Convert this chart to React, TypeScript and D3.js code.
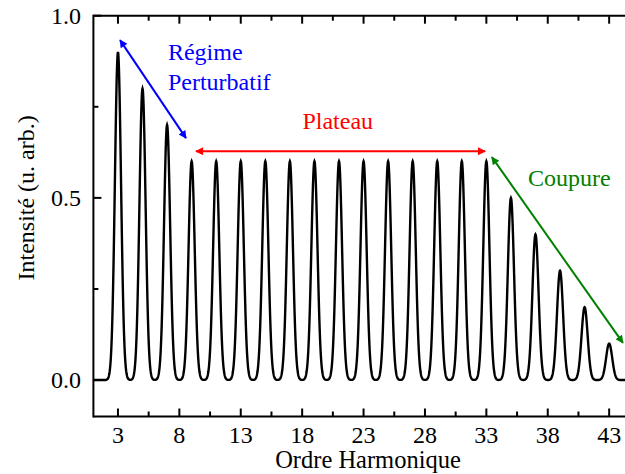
import React from 'react';
import * as d3 from 'd3';

const orders = [3, 5, 7, 9, 11, 13, 15, 17, 19, 21, 23, 25, 27, 29, 31, 33, 35, 37, 39, 41, 43];
const intensities = [0.9, 0.8, 0.7, 0.6, 0.6, 0.6, 0.6, 0.6, 0.6, 0.6, 0.6, 0.6, 0.6, 0.6, 0.6, 0.6, 0.5, 0.4, 0.3, 0.2, 0.1];
const xMajorTicks = [3, 8, 13, 18, 23, 28, 33, 38, 43];
const xMinorTicks = [5.5, 10.5, 15.5, 20.5, 25.5, 30.5, 35.5, 40.5];
const yMajorTicks = [0, 0.5, 1.0];
const yMinorTicks = [0.25, 0.75];

const arrows = [
  { x1: 3.17, y1: 0.933, x2: 8.54, y2: 0.664, color: '#0000ff' },
  { x1: 9.35, y1: 0.628, x2: 32.9, y2: 0.628, color: '#ff0000' },
  { x1: 33.45, y1: 0.612, x2: 44.12, y2: 0.102, color: '#008000' },
];
const labels = [
  { x: 7.07, y: 0.878, text: 'Régime', color: '#0000ff', anchor: 'start' },
  { x: 7.07, y: 0.796, text: 'Perturbatif', color: '#0000ff', anchor: 'start' },
  { x: 20.9, y: 0.689, text: 'Plateau', color: '#ff0000', anchor: 'middle' },
  { x: 36.4, y: 0.533, text: 'Coupure', color: '#008000', anchor: 'start' },
];

const W = 625;
const H = 474;
const FONT = '"Liberation Serif", "Times New Roman", serif';

export default function App() {
  const x = d3.scaleLinear().domain([1, 45]).range([93.4, 93.4 + 44 * 12.28]);
  const y = d3.scaleLinear().domain([-0.1, 1.0]).range([416.5, 15.7]);
  const sigma = 0.25;
  const samples = d3.range(1, 45.001, 0.02);
  const pts: [number, number][] = samples.map((v) => {
    let s = 0;
    orders.forEach((o, i) => {
      s += intensities[i] * Math.exp(-((v - o) ** 2) / (2 * sigma * sigma));
    });
    return [v, s];
  });
  const line = d3.line<[number, number]>().x((d) => x(d[0])).y((d) => y(d[1]));
  const x0 = x.range()[0];
  const x1 = x.range()[1];
  const yb = y.range()[0];
  const yt = y.range()[1];

  return (
    <svg width={W} height={H} style={{ position: 'absolute', left: 0, top: 0 }}>
      <defs>
        {arrows.map((a, i) => (
          <marker key={i} id={`ah${i}`} viewBox="0 0 10 10" refX="9" refY="5" markerWidth="11" markerHeight="8"
            markerUnits="userSpaceOnUse" orient="auto-start-reverse">
            <path d="M0,0 L10,5 L0,10 z" fill={a.color} />
          </marker>
        ))}
      </defs>
      <rect x={0} y={0} width={W} height={H} fill="#fff" />
      <path d={line(pts) || ''} fill="none" stroke="#000" strokeWidth={2.4} />
      <line x1={x0} x2={x1} y1={yb} y2={yb} stroke="#000" strokeWidth={2} />
      <line x1={x0} x2={x1} y1={yt} y2={yt} stroke="#000" strokeWidth={2} />
      <line x1={x0} x2={x0} y1={yt - 1} y2={yb + 1} stroke="#000" strokeWidth={2} />
      {xMajorTicks.map((t) => (
        <g key={`xm${t}`}>
          <line x1={x(t)} x2={x(t)} y1={yb} y2={yb - 8} stroke="#000" strokeWidth={2} />
          <line x1={x(t)} x2={x(t)} y1={yt} y2={yt + 8} stroke="#000" strokeWidth={2} />
          <text x={x(t)} y={443} textAnchor="middle" fontFamily={FONT} fontSize={24}>{t}</text>
        </g>
      ))}
      {xMinorTicks.map((t) => (
        <g key={`xn${t}`}>
          <line x1={x(t)} x2={x(t)} y1={yb} y2={yb - 5} stroke="#000" strokeWidth={2} />
          <line x1={x(t)} x2={x(t)} y1={yt} y2={yt + 5} stroke="#000" strokeWidth={2} />
        </g>
      ))}
      {yMajorTicks.map((t) => (
        <g key={`ym${t}`}>
          <line x1={x0} x2={x0 + 8} y1={y(t)} y2={y(t)} stroke="#000" strokeWidth={2} />
          <text x={81} y={y(t)} dy="0.35em" textAnchor="end" fontFamily={FONT} fontSize={24}>{d3.format('.1f')(t)}</text>
        </g>
      ))}
      {yMinorTicks.map((t) => (
        <line key={`yn${t}`} x1={x0} x2={x0 + 5} y1={y(t)} y2={y(t)} stroke="#000" strokeWidth={2} />
      ))}
      <text x={368} y={468} textAnchor="middle" fontFamily={FONT} fontSize={24.5}>Ordre Harmonique</text>
      <text transform={`translate(34,${y(0.5)}) rotate(-90)`} textAnchor="middle" fontFamily={FONT} fontSize={24}>Intensité (u. arb.)</text>
      {arrows.map((a, i) => (
        <line key={`a${i}`} x1={x(a.x1)} y1={y(a.y1)} x2={x(a.x2)} y2={y(a.y2)} stroke={a.color} strokeWidth={2}
          markerStart={`url(#ah${i})`} markerEnd={`url(#ah${i})`} />
      ))}
      {labels.map((l, i) => (
        <text key={`l${i}`} x={x(l.x)} y={y(l.y)} fill={l.color} textAnchor={l.anchor} fontFamily={FONT} fontSize={24}>{l.text}</text>
      ))}
    </svg>
  );
}
